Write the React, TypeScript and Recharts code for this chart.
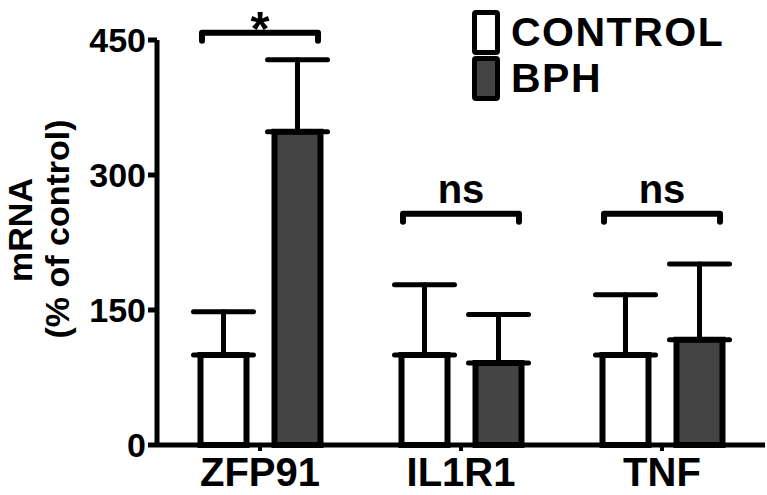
import React from 'react';
import { ComposedChart, Bar, XAxis, YAxis, ErrorBar, Legend, ReferenceDot } from 'recharts';

const FONT = '"Liberation Sans", Arial, Helvetica, sans-serif';

// gene names and values (% of control)
const GENES = ['ZFP91', 'IL1R1', 'TNF'];
const CONTROL_MEAN = [100, 100, 100];
const CONTROL_SEM = [48, 78, 67];
const BPH_MEAN = [348, 91, 117];
const BPH_SEM = [80, 54, 84];

// significance brackets
const SIG_LEVEL = [458, 257, 257];
const SIG_TEXT = ['*', 'ns', 'ns'];

const Y_TICKS = [0, 150, 300, 450];

const SERIES = [
  { key: 'control', err: 'controlErr', name: 'CONTROL', fill: '#ffffff' },
  { key: 'bph', err: 'bphErr', name: 'BPH', fill: '#444444' },
];

const data = GENES.map((g, i) => ({
  gene: g,
  control: CONTROL_MEAN[i],
  controlErr: [0, CONTROL_SEM[i]],
  bph: BPH_MEAN[i],
  bphErr: [0, BPH_SEM[i]],
}));

const bracketShape = (text: string) => (props: any) => {
  const { cx, cy } = props;
  if (cx == null || cy == null) return <g />;
  const star = text === '*';
  return (
    <g>
      <path
        d={`M${cx - 58},${cy + 8} L${cx - 58},${cy} L${cx + 58},${cy} L${cx + 58},${cy + 8}`}
        fill="none"
        stroke="#000"
        strokeWidth={6}
        strokeLinecap="round"
        strokeLinejoin="round"
      />
      <text
        x={cx}
        y={star ? cy + 12 : cy - 11}
        textAnchor="middle"
        fontSize={star ? 49 : 40}
        fontWeight="bold"
        fontFamily={FONT}
        fill="#000"
      >
        {text}
      </text>
    </g>
  );
};

const LegendBoxes = (props: any) => {
  const items = (props.payload || [])
    .filter((p: any) => SERIES.some(s => s.name === p.value))
    .sort(
      (a: any, b: any) =>
        SERIES.findIndex(s => s.name === a.value) - SERIES.findIndex(s => s.name === b.value),
    );
  return (
    <div>
      {items.map((item: any) => {
        const s = SERIES.find(x => x.name === item.value);
        return (
          <div key={item.value} style={{ display: 'flex', alignItems: 'center', height: 46 }}>
            <div
              style={{
                width: 18,
                height: 35,
                border: '5px solid #000',
                borderRadius: 4,
                background: s ? s.fill : item.color,
              }}
            />
            <span
              style={{
                marginLeft: 11,
                fontSize: 41,
                fontWeight: 'bold',
                letterSpacing: 1.5,
                lineHeight: '46px',
                fontFamily: FONT,
                color: '#000',
              }}
            >
              {item.value}
            </span>
          </div>
        );
      })}
    </div>
  );
};

const YLabel = () => (
  <g fontFamily={FONT} fontWeight="bold" fontSize={34} fill="#000">
    <text x={32} y={230} textAnchor="middle" transform="rotate(-90 32 230)">mRNA</text>
    <text x={69} y={229} textAnchor="middle" transform="rotate(-90 69 229)">(% of control)</text>
  </g>
);

export default function App() {
  return (
    <div style={{ position: 'absolute', left: 0, top: 0, width: 767, height: 495, background: '#fff' }}>
      <ComposedChart
        width={767}
        height={495}
        data={data}
        margin={{ top: 40, right: 2, bottom: 0, left: 0 }}
        barGap={28}
      >
        <XAxis
          dataKey="gene"
          height={50}
          padding={{ left: 2.5, right: 2.5 }}
          axisLine={{ stroke: '#000', strokeWidth: 5 }}
          tickLine={{ stroke: '#000', strokeWidth: 4 }}
          tickSize={6}
          tickMargin={7}
          tick={{ fontSize: 40, fontWeight: 'bold', fill: '#000', fontFamily: FONT }}
        />
        <YAxis
          width={157}
          domain={[0, 450]}
          ticks={Y_TICKS}
          axisLine={{ stroke: '#000', strokeWidth: 5 }}
          tickLine={{ stroke: '#000', strokeWidth: 5 }}
          tickSize={9}
          tick={{ fontSize: 34, fontWeight: 'bold', fill: '#000', fontFamily: FONT }}
          label={{ content: () => <YLabel /> }}
        />
        <Legend
          layout="vertical"
          align="center"
          verticalAlign="middle"
          itemSorter={null}
          content={<LegendBoxes />}
          wrapperStyle={{ left: 472, top: 9, width: 290 }}
        />
        {SERIES.map(s => (
          <Bar
            key={s.key}
            dataKey={s.key}
            name={s.name}
            fill={s.fill}
            stroke="#000"
            strokeWidth={6}
            barSize={46}
            isAnimationActive={false}
          >
            <ErrorBar
              dataKey={s.err}
              direction="y"
              width={30}
              stroke="#000"
              strokeWidth={5}
              strokeLinecap="round"
              isAnimationActive={false}
            />
          </Bar>
        ))}
        {GENES.map((g, i) => (
          <ReferenceDot
            key={g}
            x={g}
            y={SIG_LEVEL[i]}
            ifOverflow="visible"
            shape={bracketShape(SIG_TEXT[i])}
          />
        ))}
      </ComposedChart>
    </div>
  );
}
